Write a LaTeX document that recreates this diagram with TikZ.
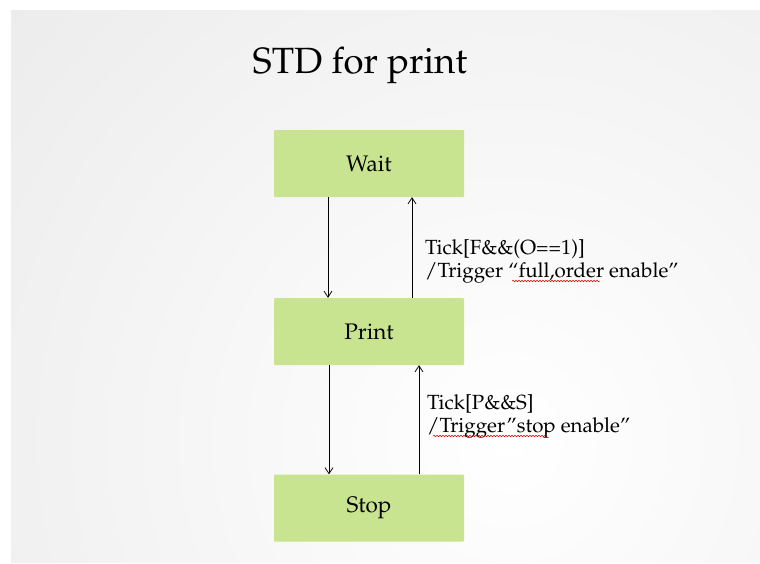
\documentclass[tikz,border=0pt]{standalone}
\usepackage[T1]{fontenc}
\usepackage{mathpazo}
\usetikzlibrary{arrows.meta,decorations.pathmorphing}
\definecolor{boxgreen}{RGB}{200,228,145}
\begin{document}
\begin{tikzpicture}[x=1pt,y=-1pt,
  state/.style={fill=boxgreen, rounded corners=1pt, minimum width=190pt, minimum height=67pt, inner sep=0pt, font=\fontsize{22.5}{26}\selectfont},
  trans/.style={-{Straight Barb[length=6pt,width=8pt]}, line width=0.75pt},
  lbl/.style={anchor=base west, align=left, inner sep=0pt, font=\fontsize{20.5}{22.5}\selectfont},
  wavy/.style={red!85!black, line width=0.5pt, decorate, decoration={snake, amplitude=0.8pt, segment length=3pt}}]
\useasboundingbox (0,0) rectangle (760,563);
\begin{scope}
  \clip (11,10) rectangle (760,562);
  \shade[inner color=white, outer color=gray!30] (510,440) circle (1340pt);
\end{scope}
% title
\node[anchor=base, inner sep=0pt, font=\fontsize{36.5}{40}\selectfont] (title) at (360,73) {STD for print};
% states
\node[state] (wait)  at (369,163.5) {Wait};
\node[state] (print) at (369,331.5) {Print};
\node[state] (stop)  at (369,508) {Stop};
% connector x positions
\coordinate (d1) at (328,0);
\coordinate (u1) at (412,0);
\coordinate (d2) at (329,0);
\coordinate (u2) at (419,0);
\draw[trans] (wait.south -| d1) -- (print.north -| d1);
\draw[trans] (print.north -| u1) -- (wait.south -| u1);
\draw[trans] (print.south -| d2) -- (stop.north -| d2);
\draw[trans] (stop.north -| u2) -- (print.south -| u2);
% labels (anchor is the baseline of the last line)
\node[lbl] (l1) at (425,277) {Tick[F\&\&(O==1)]\\/Trigger ``full,order enable''};
\node[lbl] (l2) at (427,432) {Tick[P\&\&S]\\/Trigger''stop enable''};
% spell-check underlines
\draw[wavy] (512,281) -- (600,281);
\draw[wavy] (433,436) -- (547,436);
\end{tikzpicture}
\end{document}
